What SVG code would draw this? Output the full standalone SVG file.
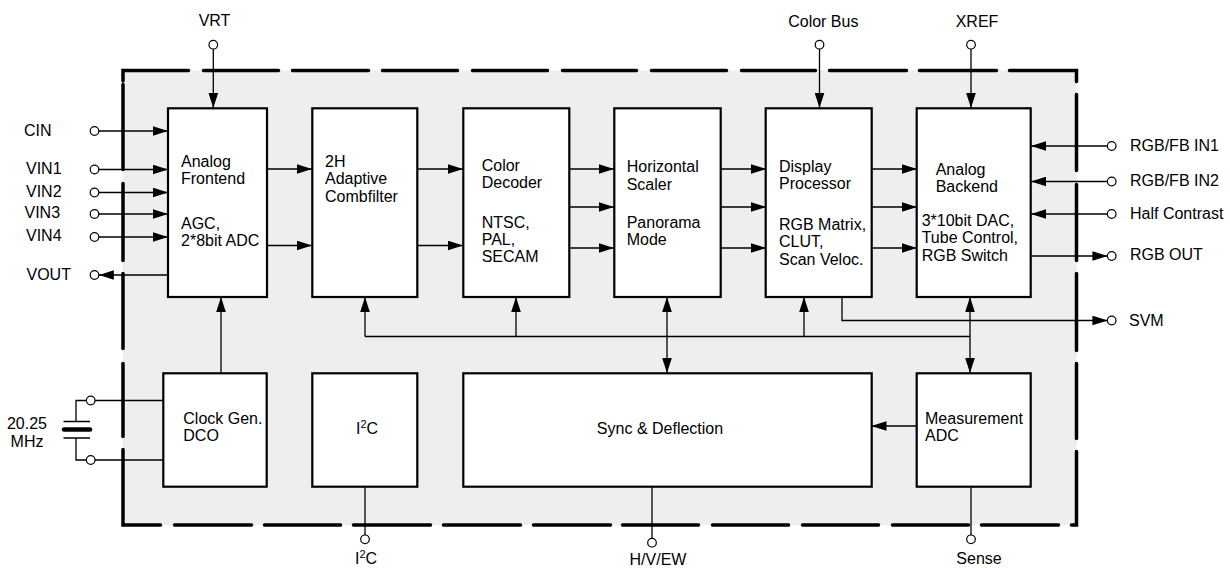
<svg xmlns="http://www.w3.org/2000/svg" width="1230" height="568" viewBox="0 0 1230 568">
<style>
text{font-family:"Liberation Sans",Arial,Helvetica,sans-serif;font-size:16px;fill:#000}
.c{text-anchor:middle}
.blk{fill:#fff;stroke:#000;stroke-width:2.2}
.ln{fill:none;stroke:#000;stroke-width:1.3}
.pin{fill:#fff;stroke:#000;stroke-width:1.2}
.bd{fill:none;stroke:#000;stroke-width:3.5;stroke-linecap:round;stroke-linejoin:miter}
</style>
<defs>
<marker id="ah" markerUnits="userSpaceOnUse" markerWidth="15" markerHeight="10" refX="14" refY="4.5" orient="auto-start-reverse" viewBox="0 0 14 9"><path d="M0,0 L14,4.5 L0,9 z" fill="#000"/></marker>
</defs>
<rect width="1230" height="568" fill="#fff"/>
<g id="chip">
<rect x="123" y="70.5" width="953.5" height="454.5" fill="#eeeeee"/>
<path class="bd" d="M123,81 L123,70.5 L188.5,70.5 M203.5,70.5 L278.5,70.5 M292.5,70.5 L368.5,70.5 M382.5,70.5 L457.5,70.5 M472.5,70.5 L547.5,70.5 M562.5,70.5 L636.5,70.5 M651.5,70.5 L726.5,70.5 M741.5,70.5 L815.5,70.5 M829.5,70.5 L906.5,70.5 M919.5,70.5 L996.5,70.5 M1009.5,70.5 L1076.5,70.5 L1076.5,81.5 M1076.5,94.5 L1076.5,170.5 M1076.5,184.5 L1076.5,260.5 M1076.5,273.5 L1076.5,350.5 M1076.5,363.5 L1076.5,438.5 M1076.5,451.5 L1076.5,525 L1071.5,525 M1058.5,525 L981.5,525 M968.5,525 L892.5,525 M878.5,525 L802.5,525 M788.5,525 L712.5,525 M698.5,525 L622.5,525 M610.5,525 L533.5,525 M520.5,525 L443.5,525 M430.5,525 L353.5,525 M340.5,525 L264.5,525 M251.5,525 L174.5,525 M160.5,525 L123,525 L123,449.5 M123,436.5 L123,363.5 M123,348.5 L123,273.5 M123,260.5 L123,183.5 M123,169.5 L123,84.5"/>
</g>
<g id="connectors">
<path class="ln" marker-end="url(#ah)" d="M213.3,49 L213.3,108"/>
<path class="ln" marker-end="url(#ah)" d="M819.5,49 L819.5,108"/>
<path class="ln" marker-end="url(#ah)" d="M971,49 L971,108"/>
<path class="ln" marker-end="url(#ah)" d="M98.8,131 L168,131"/>
<path class="ln" marker-end="url(#ah)" d="M98.8,169.5 L168,169.5"/>
<path class="ln" marker-end="url(#ah)" d="M98.8,192.5 L168,192.5"/>
<path class="ln" marker-end="url(#ah)" d="M98.8,214 L168,214"/>
<path class="ln" marker-end="url(#ah)" d="M98.8,237 L168,237"/>
<path class="ln" marker-end="url(#ah)" d="M168,275 L98.8,275"/>
<path class="ln" marker-end="url(#ah)" d="M267,169 L312,169"/>
<path class="ln" marker-end="url(#ah)" d="M267,245.5 L312,245.5"/>
<path class="ln" marker-end="url(#ah)" d="M417,169 L463,169"/>
<path class="ln" marker-end="url(#ah)" d="M417,245.5 L463,245.5"/>
<path class="ln" marker-end="url(#ah)" d="M569,169 L614,169"/>
<path class="ln" marker-end="url(#ah)" d="M569,207 L614,207"/>
<path class="ln" marker-end="url(#ah)" d="M569,248 L614,248"/>
<path class="ln" marker-end="url(#ah)" d="M721,169 L766,169"/>
<path class="ln" marker-end="url(#ah)" d="M721,207 L766,207"/>
<path class="ln" marker-end="url(#ah)" d="M721,248 L766,248"/>
<path class="ln" marker-end="url(#ah)" d="M872,169 L917,169"/>
<path class="ln" marker-end="url(#ah)" d="M872,207 L917,207"/>
<path class="ln" marker-end="url(#ah)" d="M872,248 L917,248"/>
<path class="ln" marker-end="url(#ah)" d="M1107.4,146 L1031,146"/>
<path class="ln" marker-end="url(#ah)" d="M1107.4,181.5 L1031,181.5"/>
<path class="ln" marker-end="url(#ah)" d="M1107.4,214 L1031,214"/>
<path class="ln" marker-end="url(#ah)" d="M1031,256 L1107.4,256"/>
<path class="ln" marker-end="url(#ah)" d="M842,297 L842,320.5 L1107.4,320.5"/>
<path class="ln" d="M365,336.5 L970,336.5"/>
<path class="ln" marker-end="url(#ah)" d="M365,336.5 L365,297"/>
<path class="ln" marker-end="url(#ah)" d="M516,336.5 L516,297"/>
<path class="ln" marker-end="url(#ah)" d="M804,336.5 L804,297"/>
<path class="ln" marker-start="url(#ah)" marker-end="url(#ah)" d="M667,297 L667,373"/>
<path class="ln" marker-start="url(#ah)" marker-end="url(#ah)" d="M970,297 L970,373"/>
<path class="ln" marker-end="url(#ah)" d="M221,373 L221,297"/>
<path class="ln" marker-end="url(#ah)" d="M917,426 L871.5,426"/>
<path class="ln" d="M163,400.5 L95,400.5 M86.4,400.5 L76,400.5 L76,421.5 M76,438 L76,460 L86.4,460 M95,460 L163,460"/>
<path fill="none" stroke="#000" stroke-width="1.6" d="M63.5,421.5 L90,421.5 M63.5,438 L90,438"/>
<path fill="none" stroke="#000" stroke-width="4.5" stroke-linecap="round" d="M64,429.5 L90,429.5"/>
<path class="ln" d="M365,487 L365,535"/>
<path class="ln" d="M652,487 L652,538.4"/>
<path class="ln" d="M971,487 L971,535"/>
</g>
<g id="pins">
<circle class="pin" cx="213.3" cy="44.7" r="4.3"/>
<circle class="pin" cx="819.5" cy="44.7" r="4.3"/>
<circle class="pin" cx="971" cy="44.7" r="4.3"/>
<circle class="pin" cx="94.5" cy="131" r="4.3"/>
<circle class="pin" cx="94.5" cy="169.5" r="4.3"/>
<circle class="pin" cx="94.5" cy="192.5" r="4.3"/>
<circle class="pin" cx="94.5" cy="214" r="4.3"/>
<circle class="pin" cx="94.5" cy="237" r="4.3"/>
<circle class="pin" cx="94.5" cy="275" r="4.3"/>
<circle class="pin" cx="1111.7" cy="146" r="4.3"/>
<circle class="pin" cx="1111.7" cy="181.5" r="4.3"/>
<circle class="pin" cx="1111.7" cy="214" r="4.3"/>
<circle class="pin" cx="1111.7" cy="256" r="4.3"/>
<circle class="pin" cx="1111.7" cy="320.5" r="4.3"/>
<circle class="pin" cx="90.7" cy="400.5" r="4.3"/>
<circle class="pin" cx="90.7" cy="460" r="4.3"/>
<circle class="pin" cx="365" cy="539.3" r="4.3"/>
<circle class="pin" cx="652" cy="542.7" r="4.3"/>
<circle class="pin" cx="971" cy="539.3" r="4.3"/>
</g>
<g id="labels">
<text class="c" x="214.5" y="26">VRT</text>
<text class="c" x="823.3" y="26.5">Color Bus</text>
<text class="c" x="977" y="26.5">XREF</text>
<text x="24" y="136">CIN</text>
<text x="26" y="174">VIN1</text>
<text x="26" y="196.7">VIN2</text>
<text x="24.5" y="218.3">VIN3</text>
<text x="26" y="240.7">VIN4</text>
<text x="26.5" y="280">VOUT</text>
<text x="1130" y="150.5">RGB/FB IN1</text>
<text x="1130" y="185.5">RGB/FB IN2</text>
<text x="1130" y="218.5">Half Contrast</text>
<text x="1130" y="260">RGB OUT</text>
<text x="1129" y="326">SVM</text>
<text class="c" x="27" y="429">20.25</text>
<text class="c" x="27" y="446.7">MHz</text>
<text class="c" x="366" y="564">I<tspan font-size="11" dy="-6">2</tspan><tspan dy="6">C</tspan></text>
<text class="c" x="658" y="565">H/V/EW</text>
<text class="c" x="979" y="564">Sense</text>
</g>
<g id="analog-frontend">
<rect class="blk" x="168" y="108.3" width="99" height="188.7"/>
<text x="181" y="166.7">Analog</text>
<text x="181" y="184">Frontend</text>
<text x="181" y="228.5">AGC,</text>
<text x="181" y="245.7">2*8bit ADC</text>
</g>
<g id="combfilter">
<rect class="blk" x="312.3" y="108.3" width="105" height="188.7"/>
<text x="325" y="166.7">2H</text>
<text x="325" y="184">Adaptive</text>
<text x="325" y="201.7">Combfilter</text>
</g>
<g id="color-decoder">
<rect class="blk" x="463.3" y="108.3" width="106" height="188.7"/>
<text x="481.7" y="171">Color</text>
<text x="481.7" y="188.3">Decoder</text>
<text x="481.7" y="227.7">NTSC,</text>
<text x="481.7" y="245">PAL,</text>
<text x="481.7" y="262.3">SECAM</text>
</g>
<g id="horizontal-scaler">
<rect class="blk" x="614.3" y="108.3" width="106.4" height="188.7"/>
<text x="626.7" y="172.3">Horizontal</text>
<text x="626.7" y="189.7">Scaler</text>
<text x="626.7" y="227.7">Panorama</text>
<text x="626.7" y="245">Mode</text>
</g>
<g id="display-processor">
<rect class="blk" x="765.7" y="108.3" width="106" height="188.7"/>
<text x="779" y="172.3">Display</text>
<text x="779" y="189.3">Processor</text>
<text x="779" y="230">RGB Matrix,</text>
<text x="779" y="247.3">CLUT,</text>
<text x="779" y="264.7">Scan Veloc.</text>
</g>
<g id="analog-backend">
<rect class="blk" x="916.7" y="108.3" width="114" height="188.7"/>
<text x="935.7" y="175">Analog</text>
<text x="935.7" y="192.3">Backend</text>
<text x="921.7" y="226">3*10bit DAC,</text>
<text x="921.7" y="243.3">Tube Control,</text>
<text x="921.7" y="261">RGB Switch</text>
</g>
<g id="clock-gen">
<rect class="blk" x="163.3" y="373.3" width="103.4" height="113.4"/>
<text x="183.3" y="424">Clock Gen.</text>
<text x="183.3" y="441">DCO</text>
</g>
<g id="i2c">
<rect class="blk" x="312.3" y="373.3" width="105" height="113.4"/>
<text class="c" x="367" y="434.3">I<tspan font-size="11" dy="-6">2</tspan><tspan dy="6">C</tspan></text>
</g>
<g id="sync-deflection">
<rect class="blk" x="463.3" y="373.3" width="408.4" height="113.4"/>
<text class="c" x="660" y="434">Sync &amp; Deflection</text>
</g>
<g id="measurement-adc">
<rect class="blk" x="916.7" y="373.3" width="114" height="113.4"/>
<text x="925" y="424">Measurement</text>
<text x="925" y="441">ADC</text>
</g>
</svg>
